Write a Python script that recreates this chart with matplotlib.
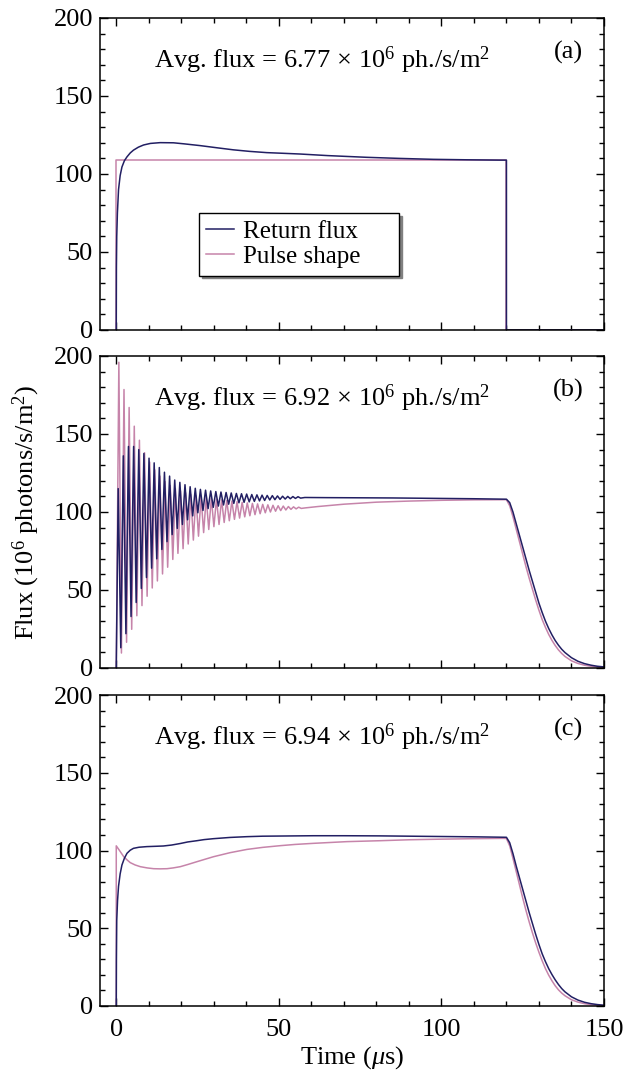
import numpy as np
import matplotlib.pyplot as plt
from matplotlib.ticker import MultipleLocator

plt.rcParams['font.family'] = ['Liberation Serif', 'DejaVu Serif']
plt.rcParams['mathtext.fontset'] = 'custom'
plt.rcParams['mathtext.rm'] = 'Liberation Serif'
plt.rcParams['mathtext.it'] = 'Liberation Serif:italic'
plt.rcParams['font.size'] = 19

DARK = '#221f63'
PINK = '#c684aa'

# ---- panel (a): square pulse ----
a_ret_t = [0, 0.05, 0.15, 0.35, 0.7, 1.2, 1.75, 2.5, 3.3, 4.3, 5.3, 6.8, 8.4, 10.5, 13.5,
           17.6, 21, 25.8, 31, 36, 41, 46.3, 51, 56.6, 65, 77, 87, 97.5, 108, 118, 120, 120, 150]
a_ret_v = [0, 40, 60, 75, 90, 99, 104.5, 108.5, 111, 113.5, 115.3, 117.2, 118.6, 119.6, 120.1,
           120.0, 119.3, 118.2, 116.8, 115.5, 114.5, 113.7, 113.3, 112.8, 111.8, 110.7, 110.0,
           109.4, 109.1, 108.9, 108.9, 0, 0]
a_pulse_t = [0, 0, 120, 120, 150]
a_pulse_v = [0, 109, 109, 0, 0]

# ---- panel (b): oscillating start, extrema per cycle ----
b_period = 1.58
b_t0 = 0.6
b_lag = 0.2
b_ret_peaks = [115, 136, 142, 142, 140, 137.5, 134.5, 131.5, 128.5, 125.5, 123, 120.5,
               119, 117.5, 116.2, 115.2, 114.5, 114.0, 113.5, 113.1, 112.8, 112.5, 112.2, 111.9,
               111.7, 111.5, 111.2, 111.0, 110.8, 110.6, 110.5, 110.3, 110.1, 110.0, 109.9, 109.8]
b_ret_troughs = [13, 22, 33, 42, 51, 58, 64, 70, 76, 81, 85.5, 89.5,
                 92, 95, 97.5, 99.5, 101, 102.2, 103.0, 103.8, 104.5, 105.0, 105.5, 105.9,
                 106.2, 106.5, 106.8, 107.1, 107.4, 107.7, 107.9, 108.1, 108.3, 108.5, 108.7, 108.9]
b_pulse_peaks = [196, 178.5, 167, 155, 146, 138, 132, 127, 123, 119.5, 117, 115,
                 113.5, 112.3, 111.3, 110.5, 109.8, 109.2, 108.7, 108.3, 107.8, 107.4, 107.0, 106.6,
                 106.2, 105.8, 105.5, 105.2, 104.9, 104.6, 104.3, 104.0, 103.8, 103.5, 103.3, 103.1]
b_pulse_troughs = [9.6, 16.5, 24.8, 33.5, 40, 46, 51.3, 55.8, 60.3, 64.6, 69.6, 73.5,
                   76.5, 79.5, 82, 84.5, 86.8, 88.8, 90.6, 92.0, 93.3, 94.4, 95.3, 96.1, 96.9,
                   97.6, 98.3, 98.9, 99.5, 100.0, 100.5, 100.9, 101.3, 101.7, 102.0, 102.3]
b_ret_tail_t = [58, 65, 75, 85, 100, 110, 120, 121, 122, 123, 124, 125, 126, 127, 128, 129,
                130, 131, 132, 133, 134, 135, 136, 137, 138, 140, 142, 144, 146, 148, 150]
b_ret_tail_v = [109.3, 109.2, 109.1, 109.0, 108.7, 108.5, 108.2, 106, 100, 92.5, 85, 77.5, 70,
                62.5, 55.5, 48.5, 41.5, 35.5, 30, 25.3, 21.2, 17.6, 14.6, 12, 9.9, 6.6, 4.3,
                2.8, 1.8, 1.1, 0.7]
b_pulse_tail_t = [58, 62, 70, 80, 90, 100, 110, 120, 121, 122, 123, 124, 125, 126, 127, 128,
                  129, 130, 131, 132, 133, 134, 135, 136, 137, 138, 140, 142, 144, 146, 148, 150]
b_pulse_tail_v = [102.6, 103.5, 105, 106.3, 107, 107.5, 107.8, 107.9, 104, 97, 89, 81, 73, 65,
                  57.5, 50.5, 43.5, 37, 31, 26, 21.5, 17.7, 14.4, 11.6, 9.3, 7.4, 4.6, 2.9,
                  1.8, 1.1, 0.6, 0.3]

# ---- panel (c): shaped pulse ----
c_ret_t = [0, 0.05, 0.15, 0.4, 0.7, 1.2, 1.75, 2.5, 3.3, 4.3, 5.3, 7, 9.4, 12, 14.5, 17, 19.7,
           22, 24.8, 27, 29.9, 35, 40.2, 45, 50.4, 60.6, 70, 81, 95, 110, 120, 121, 122, 123,
           124, 125, 126, 127, 128, 129, 130, 131, 132, 133, 134, 135, 136, 137, 138, 140,
           142, 144, 146, 148, 150]
c_ret_v = [0, 30, 55, 68, 77, 85, 90.7, 95, 98.2, 100.2, 101.4, 102.1, 102.5, 102.7, 102.9,
           103.5, 104.5, 105.5, 106.3, 107, 107.6, 108.4, 108.9, 109.2, 109.3, 109.5, 109.5,
           109.4, 109.1, 108.8, 108.5, 105, 98, 90, 82.5, 75, 67.5, 60, 53, 46, 39.5, 33.5,
           28.5, 24, 20.2, 16.8, 13.8, 11.2, 9.1, 5.9, 3.8, 2.4, 1.5, 0.9, 0.5]
c_pulse_t = [0, 0, 1, 2.3, 3.3, 4.3, 5.8, 7.4, 9.5, 11.5, 13.5, 15.6, 17.5, 19.7, 22, 24.8,
             27.5, 29.9, 35, 40.2, 45, 50.4, 55, 60.6, 70.9, 81.2, 90, 100, 110, 119, 120, 121,
             122, 123, 124, 125, 126, 127, 128, 129, 130, 131, 132, 133, 134, 135, 136, 137,
             138, 140, 142, 144, 146, 148, 150]
c_pulse_v = [0, 103, 100, 96, 94, 92.2, 90.7, 89.6, 88.8, 88.3, 88.2, 88.3, 88.8, 89.6, 91,
             92.8, 94.5, 96, 98.6, 100.7, 102, 103.1, 103.9, 104.6, 105.7, 106.3, 106.9, 107.3,
             107.6, 107.8, 107.7, 103, 95, 86.5, 78, 69.5, 61.5, 54, 47, 40.5, 34.5, 29, 24,
             19.8, 16.2, 13, 10.4, 8.3, 6.6, 4, 2.5, 1.5, 0.9, 0.5, 0.3]

avg_flux = ['6.77', '6.92', '6.94']
panel_tags = ['(a)', '(b)', '(c)']


def zigzag(t0, peaks, troughs, tail_t, tail_v):
    tp = t0 + b_period * np.arange(len(peaks))
    tt = tp + b_period / 2
    t = np.concatenate([[0], np.column_stack([tp, tt]).ravel(), tail_t])
    v = np.concatenate([[0], np.column_stack([peaks, troughs]).ravel(), tail_v])
    return t, v


fig = plt.figure(figsize=(6.26, 10.71), dpi=100)
W, H = 626, 1071
left, right = 100, 604
tops = [18, 356, 695]
bottoms = [330, 668, 1006]
axes = []
for top, bot in zip(tops, bottoms):
    ax = fig.add_axes([left / W, 1 - bot / H, (right - left) / W, (bot - top) / H])
    axes.append(ax)

ax_a, ax_b, ax_c = axes
lw = 1.1

ax_a.plot(a_pulse_t, a_pulse_v, color=PINK, lw=lw, label='Pulse shape')
ax_a.plot(a_ret_t, a_ret_v, color=DARK, lw=lw, label='Return flux')

pt, pv = zigzag(b_t0 + b_lag, b_pulse_peaks, b_pulse_troughs, b_pulse_tail_t, b_pulse_tail_v)
rt, rv = zigzag(b_t0, b_ret_peaks, b_ret_troughs, b_ret_tail_t, b_ret_tail_v)
ax_b.plot(pt, pv, color=PINK, lw=lw)
ax_b.plot(rt, rv, color=DARK, lw=lw)

ax_c.plot(c_pulse_t, c_pulse_v, color=PINK, lw=lw)
ax_c.plot(c_ret_t, c_ret_v, color=DARK, lw=lw)

for i, ax in enumerate(axes):
    ax.set_xlim(-5, 150)
    ax.set_ylim(0, 200)
    ax.xaxis.set_major_locator(MultipleLocator(50))
    ax.xaxis.set_minor_locator(MultipleLocator(10))
    ax.yaxis.set_major_locator(MultipleLocator(50))
    ax.yaxis.set_minor_locator(MultipleLocator(10))
    ax.tick_params(which='both', direction='in', top=True, right=True, labelsize=19, width=1)
    ax.tick_params(which='major', length=5.8, pad=5)
    ax.tick_params(which='minor', length=3.6)
    ax.tick_params(axis='x', which='major', pad=9)
    if i < 2:
        ax.tick_params(labelbottom=False)
    for s in ax.spines.values():
        s.set_linewidth(1.1)
    ax.text(0.44, 0.865,
            'Avg. flux = ' + avg_flux[i] + '$\\,\\times\\,$10$^{6}$ ph./s/m$^{2}$',
            transform=ax.transAxes, ha='center', va='center', fontsize=19)
    ax.text(0.93, 0.89, panel_tags[i], transform=ax.transAxes, ha='center', va='center',
            fontsize=19)

handles, labels = ax_a.get_legend_handles_labels()
leg = ax_a.legend(handles[::-1], labels[::-1], loc='upper left',
                  bbox_to_anchor=(0.196, 0.183, 0.397, 0.192), mode='expand',
                  fancybox=False, shadow={'color': '0.5', 'alpha': 1}, edgecolor='black',
                  framealpha=1, fontsize=18, handlelength=1.1, handletextpad=0.35,
                  borderpad=0.3, labelspacing=0.1, borderaxespad=0)
leg.get_frame().set_linewidth(1.0)

fig.text(26 / W, 1 - 512 / H, 'Flux (10$^{6}$ photons/s/m$^{2}$)', rotation=90,
         ha='center', va='center', fontsize=19)
fig.text((left + right) / 2 / W, 1 - 1058 / H, 'Time ($\\mu$s)', ha='center', va='center',
         fontsize=19)

fig.savefig('out.png', dpi=100)
